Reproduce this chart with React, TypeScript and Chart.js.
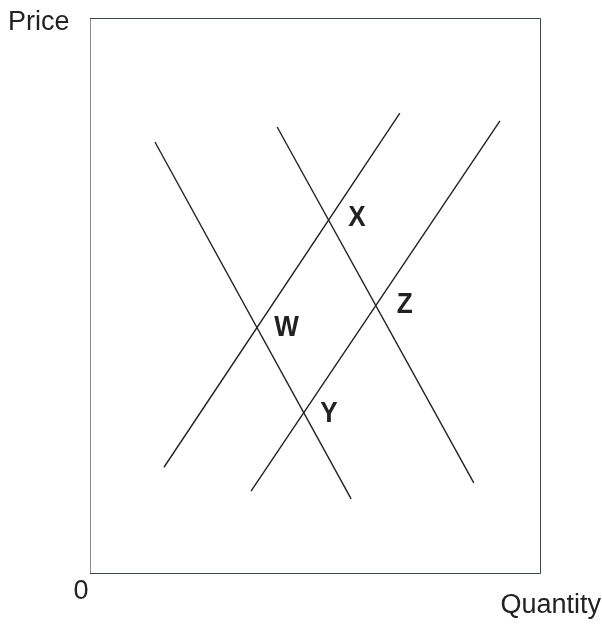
import React, { useEffect, useRef } from "react";
import { Chart, registerables } from "chart.js";

Chart.register(...registerables);

const demand1 = [{ x: 14.4, y: 77.7 }, { x: 57.9, y: 13.5 }];
const demand2 = [{ x: 41.5, y: 80.4 }, { x: 85.1, y: 16.4 }];
const supply1 = [{ x: 16.4, y: 19.2 }, { x: 68.7, y: 82.9 }];
const supply2 = [{ x: 35.7, y: 14.9 }, { x: 90.9, y: 81.5 }];

const pointLabels = ["X", "W", "Z", "Y"];
const pointLabelX = [59.2, 43.6, 69.8, 53.0];
const pointLabelY = [64.2, 44.5, 48.6, 29.0];

const FONT = '"Liberation Sans", Arial, sans-serif';

const annotatePlugin = {
  id: "annotate",
  afterDraw(chart: any) {
    const ctx = chart.ctx;
    const { left, right, top, bottom } = chart.chartArea;
    ctx.save();
    // frame
    ctx.lineWidth = 1;
    ctx.strokeStyle = "#8a8a8a";
    ctx.beginPath();
    ctx.moveTo(left + 0.5, top);
    ctx.lineTo(left + 0.5, bottom);
    ctx.stroke();
    ctx.strokeStyle = "#3a4a4a";
    ctx.beginPath();
    ctx.moveTo(left, top + 0.5);
    ctx.lineTo(right - 0.5, top + 0.5);
    ctx.lineTo(right - 0.5, bottom - 0.5);
    ctx.lineTo(left, bottom - 0.5);
    ctx.stroke();

    const xs = chart.scales.x;
    const ys = chart.scales.y;
    ctx.fillStyle = "#222";
    ctx.textBaseline = "middle";
    ctx.font = `bold 30px ${FONT}`;
    ctx.textAlign = "center";
    const sx = 0.87;
    pointLabels.forEach((t, i) => {
      const px = xs.getPixelForValue(pointLabelX[i]);
      const py = ys.getPixelForValue(pointLabelY[i]);
      ctx.save();
      ctx.translate(px, py + 1);
      ctx.scale(sx, 1);
      ctx.fillText(t, 0, 0);
      ctx.restore();
    });

    ctx.font = `27px ${FONT}`;
    ctx.textBaseline = "alphabetic";
    ctx.textAlign = "left";
    ctx.fillText("Price", 8, 30);
    ctx.textAlign = "center";
    ctx.fillText("0", 81, 599);
    ctx.textAlign = "right";
    ctx.fillText("Quantity", 601, 613);
    ctx.restore();
  },
};

export default function App() {
  const ref = useRef<HTMLCanvasElement | null>(null);
  useEffect(() => {
    if (!ref.current) return;
    const mk = (data: any) => ({
      data,
      borderColor: "#222",
      borderWidth: 1.4,
      pointRadius: 0,
      fill: false,
      tension: 0,
    });
    const chart = new Chart(ref.current, {
      type: "line",
      data: {
        datasets: [mk(demand1), mk(demand2), mk(supply1), mk(supply2)],
      },
      options: {
        animation: false,
        responsive: false,
        maintainAspectRatio: false,
        layout: { padding: { left: 90, top: 18, right: 61, bottom: 50 } },
        plugins: { legend: { display: false }, tooltip: { enabled: false } },
        scales: {
          x: { type: "linear", min: 0, max: 100, display: false },
          y: { type: "linear", min: 0, max: 100, display: false },
        },
      },
      plugins: [annotatePlugin],
    });
    return () => chart.destroy();
  }, []);
  return (
    <div style={{ position: "absolute", left: 0, top: 0, width: 602, height: 624, background: "#fff" }}>
      <canvas ref={ref} width={602} height={624} style={{ width: 602, height: 624 }} />
    </div>
  );
}
